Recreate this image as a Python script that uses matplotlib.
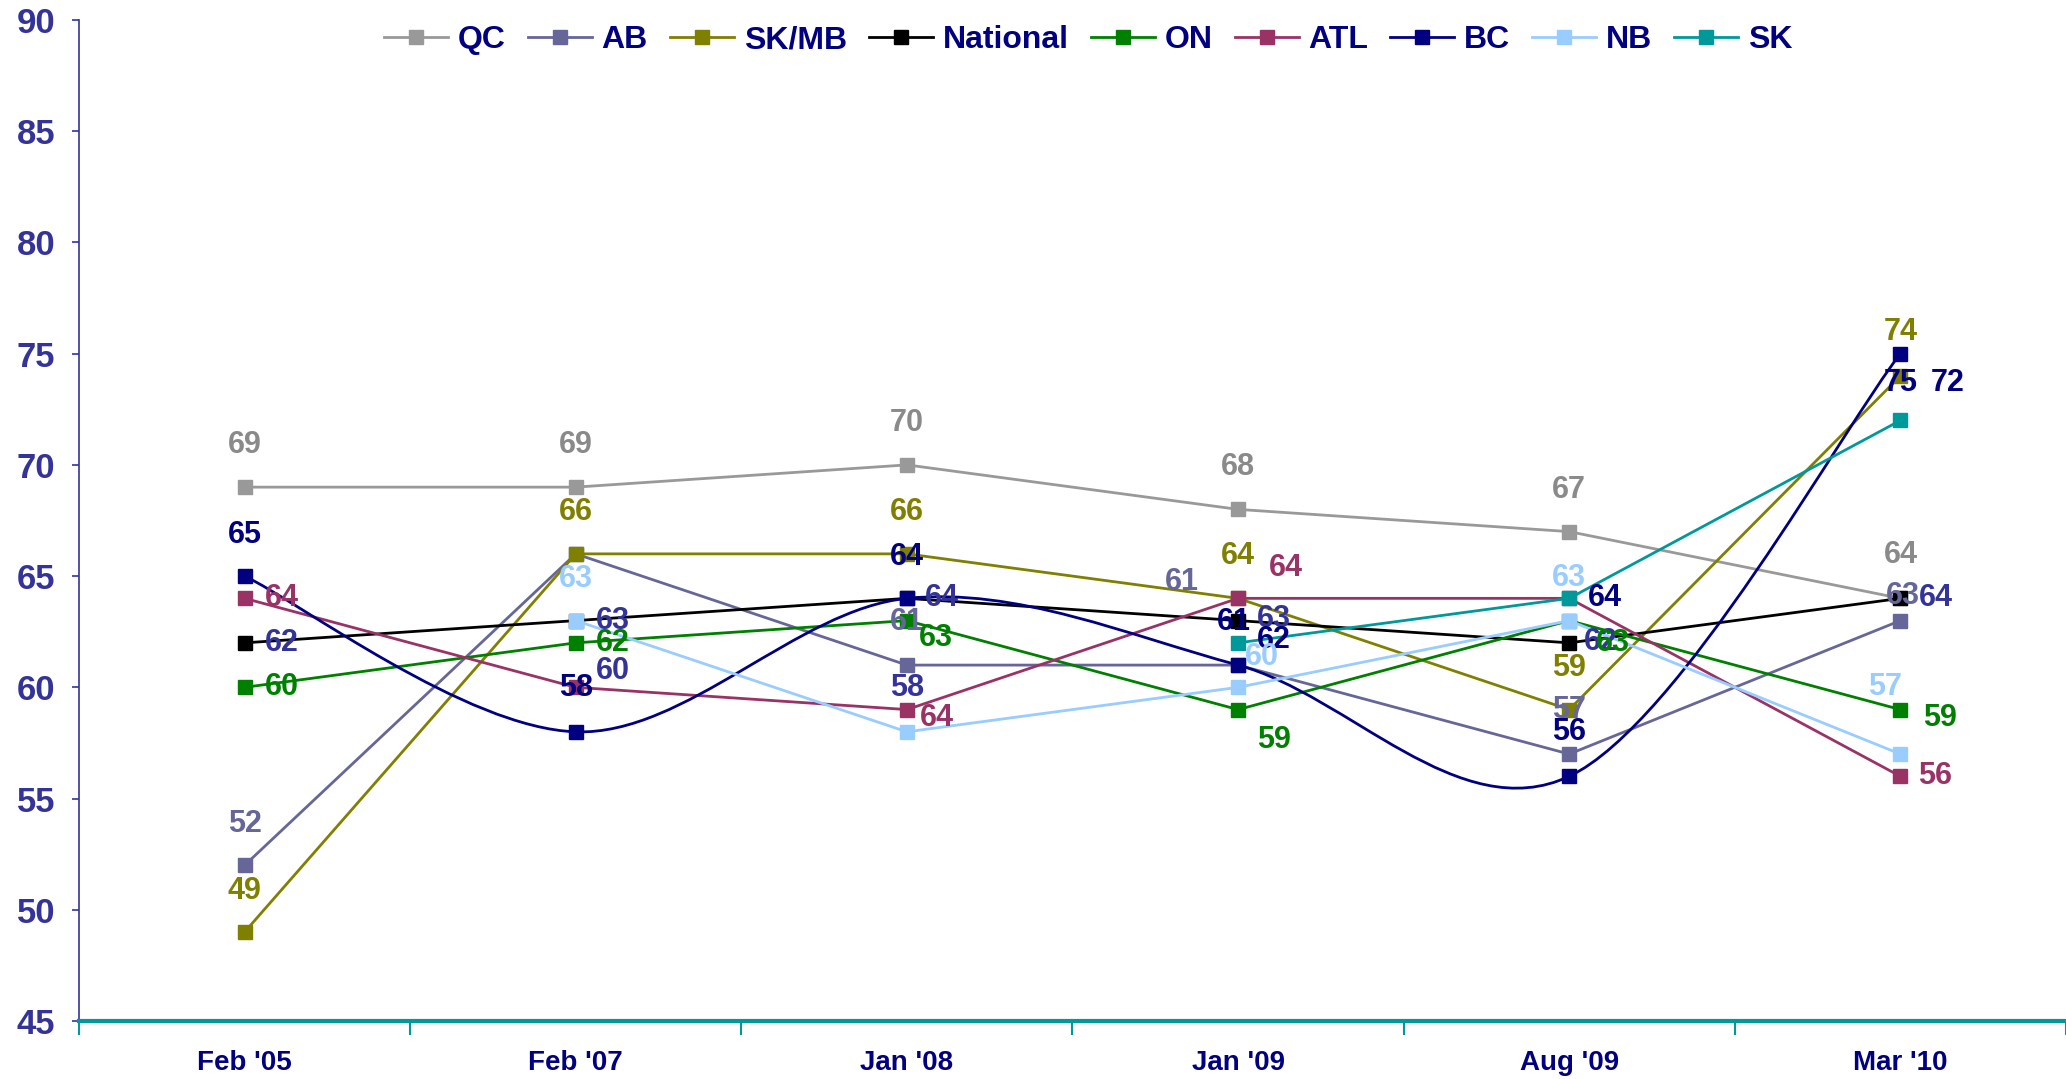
import matplotlib
matplotlib.use('Agg')
import matplotlib.pyplot as plt
from matplotlib.path import Path
from matplotlib.patches import PathPatch
import numpy as np

# Data
dates = ["Feb '05", "Feb '07", "Jan '08", "Jan '09", "Aug '09", "Mar '10"]
qc = [69, 69, 70, 68, 67, 64]
ab = [52, 66, 61, 61, 57, 63]
skmb = [49, 66, 66, 64, 59, 74]
national = [62, 63, 64, 63, 62, 64]
on = [60, 62, 63, 59, 63, 59]
atl = [64, 60, 59, 64, 64, 56]
bc = [65, 58, 64, 61, 56, 75]
nb = [np.nan, 63, 58, 60, 63, 57]
sk = [np.nan, np.nan, np.nan, 62, 64, 72]

names = ['QC', 'AB', 'SK/MB', 'National', 'ON', 'ATL', 'BC', 'NB', 'SK']
values = [qc, ab, skmb, national, on, atl, bc, nb, sk]
colors = ['#999999', '#666699', '#808000', '#000000', '#008000',
          '#993366', '#000080', '#99CCFF', '#009999']
smooth = ['BC']

# label text colours (some differ from the line colour in the original)
GRAY_T = '#8a8a8a'
PURP = '#333399'
# (series, index, text, dx px, dy px, colour)
labels = [
    ('QC', 0, '69', 0, 42, GRAY_T), ('BC', 0, '65', 0, 41, '#000080'),
    ('ATL', 0, '64', 37, 0, '#993366'), ('National', 0, '62', 37, 0, PURP),
    ('ON', 0, '60', 37, 0, '#008000'), ('AB', 0, '52', 0, 41, '#666699'),
    ('SK/MB', 0, '49', 0, 41, '#808000'),
    ('QC', 1, '69', 0, 42, GRAY_T), ('SK/MB', 1, '66', 0, 42, '#808000'),
    ('NB', 1, '63', 0, 42, '#99CCFF'), ('National', 1, '63', 37, 0, PURP),
    ('ON', 1, '62', 37, 0, '#008000'), ('ATL', 1, '60', 37, 16, PURP),
    ('BC', 1, '58', 0, 44, '#000080'),
    ('QC', 2, '70', 0, 42, GRAY_T), ('SK/MB', 2, '66', 0, 42, '#808000'),
    ('BC', 2, '64', 0, 41, '#000080'), ('National', 2, '64', 35, 0, PURP),
    ('AB', 2, '61', 0, 43, '#666699'), ('ON', 2, '63', 29, -17, '#008000'),
    ('NB', 2, '58', 0, 44, PURP), ('ATL', 2, '64', 30, -8, '#993366'),
    ('QC', 3, '68', 0, 42, GRAY_T), ('SK/MB', 3, '64', 0, 42, '#808000'),
    ('ATL', 3, '64', 48, 30, '#993366'), ('AB', 3, '61', -56, 83, '#666699'),
    ('BC', 3, '61', -4, 43, '#000080'), ('National', 3, '63', 36, 2, PURP),
    ('SK', 3, '62', 36, 3, '#000080'), ('NB', 3, '60', 24, 30, '#99CCFF'),
    ('ON', 3, '59', 36, -30, '#008000'),
    ('QC', 4, '67', 0, 42, GRAY_T), ('NB', 4, '63', 0, 43, '#99CCFF'),
    ('SK', 4, '64', 36, 0, '#000080'), ('National', 4, '62', 32, 1, PURP),
    ('ON', 4, '63', 44, -22, '#008000'), ('SK/MB', 4, '59', 0, 42, '#808000'),
    ('AB', 4, '57', 0, 44, '#666699'), ('BC', 4, '56', 0, 44, '#000080'),
    ('SK/MB', 5, '74', 0, 44, '#808000'), ('BC', 5, '75', 0, -29, '#000080'),
    ('SK', 5, '72', 47, 37, '#000080'), ('QC', 5, '64', 0, 43, GRAY_T),
    ('AB', 5, '63', 2, 25, '#666699'), ('National', 5, '64', 35, 0, PURP),
    ('NB', 5, '57', -15, 67, '#99CCFF'), ('ON', 5, '59', 40, -8, '#008000'),
    ('ATL', 5, '56', 35, 0, '#993366'),
]


def smooth_path(xs, ys):
    # Excel-style smoothed line: cubic bezier segments through the points
    pts = np.column_stack([xs, ys]).astype(float)
    n = len(pts)
    verts = [pts[0]]
    codes = [Path.MOVETO]
    for i in range(n - 1):
        p0 = pts[max(i - 1, 0)]
        p1 = pts[i]
        p2 = pts[i + 1]
        p3 = pts[min(i + 2, n - 1)]
        verts += [p1 + (p2 - p0) / 6.0, p2 - (p3 - p1) / 6.0, p2]
        codes += [Path.CURVE4] * 3
    return Path(verts, codes)


plt.rcParams['font.family'] = ['Liberation Sans', 'DejaVu Sans']
plt.rcParams['font.weight'] = 'bold'

fig = plt.figure(figsize=(20.66, 10.79), dpi=100)
ax = fig.add_axes([79 / 2066, 1 - 1021 / 1079, 1 - 79 / 2066, 1001 / 1079])

LW = 2.0
MS = 10
x = np.arange(len(dates))
for name, vals, col in zip(names, values, colors):
    vals = np.array(vals, dtype=float)
    if name in smooth:
        ok = ~np.isnan(vals)
        ax.add_patch(PathPatch(smooth_path(x[ok], vals[ok]), facecolor='none',
                               edgecolor=col, lw=LW, zorder=2))
        ax.plot(x, vals, ls='none', marker='s', ms=MS, color=col, zorder=3)
        ax.plot([], [], marker='s', ms=MS, color=col, lw=LW, label=name)
    else:
        ax.plot(x, vals, marker='s', ms=MS, color=col, lw=LW, label=name, zorder=2)

lookup = dict(zip(names, values))
for name, i, txt, dx, dy, col in labels:
    ax.annotate(txt, (x[i], lookup[name][i]), xytext=(dx, dy),
                textcoords='offset pixels', ha='center', va='center',
                fontsize=22, fontweight='bold', color=col, zorder=5)

ax.set_xlim(-0.5, 5.5)
ax.set_ylim(45, 90)
ax.set_yticks(range(45, 91, 5))
ax.tick_params(axis='y', colors=PURP, labelsize=25, length=5, width=1.2, pad=12)
for lab in ax.get_yticklabels():
    lab.set_fontweight('bold')

ax.set_xticks(np.arange(-0.5, 6, 1))
ax.set_xticklabels([])
ax.set_xticks(x, minor=True)
ax.set_xticklabels(dates, minor=True)
ax.tick_params(axis='x', which='major', colors='#009999', length=10, width=1.5)
ax.tick_params(axis='x', which='minor', length=0, pad=21, labelsize=20,
               labelcolor='#000080')

for s in ['top', 'right']:
    ax.spines[s].set_visible(False)
ax.spines['left'].set_color(PURP)
ax.spines['left'].set_linewidth(1.2)
ax.spines['bottom'].set_color('#009999')
ax.spines['bottom'].set_linewidth(3)

leg = ax.legend(loc='center', bbox_to_anchor=(0.508, 0.98), ncol=9,
                frameon=False, fontsize=23, handlelength=2.0,
                handletextpad=0.3, columnspacing=0.7)
for t in leg.get_texts():
    t.set_color('#000080')
    t.set_fontweight('bold')

fig.savefig('out.png', dpi=100)
